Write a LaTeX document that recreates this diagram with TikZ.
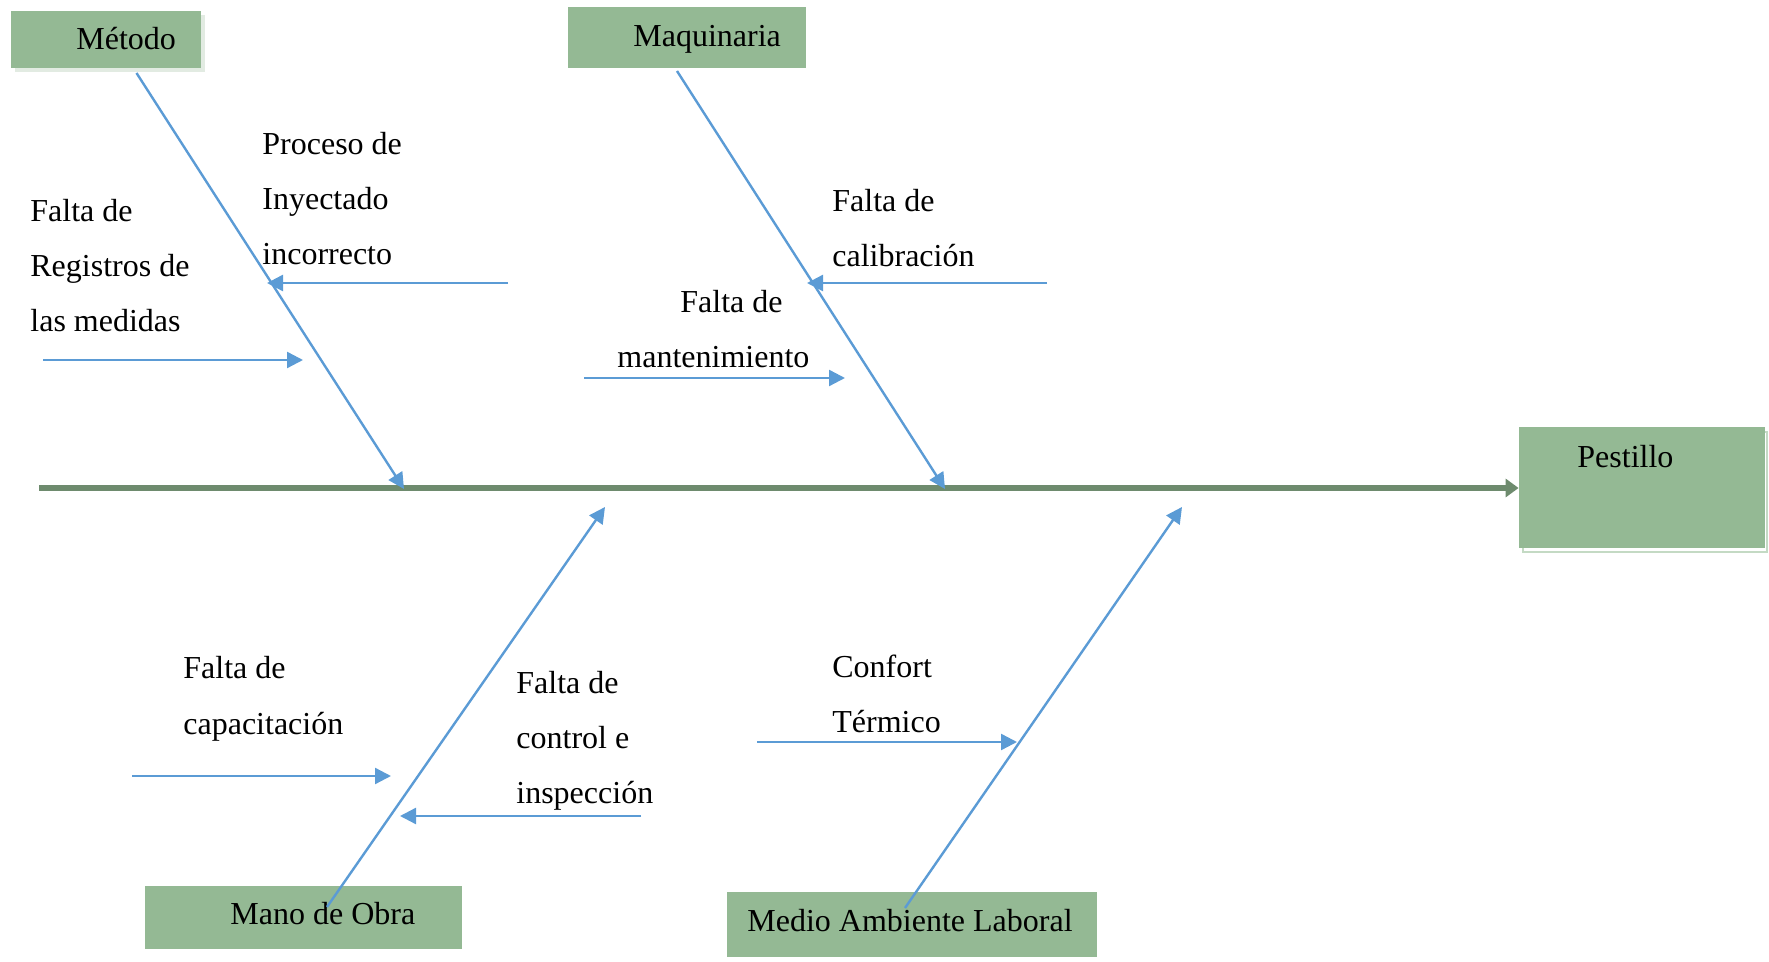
\documentclass[tikz,border=0pt]{standalone}
\usepackage{fontspec}
\setmainfont{Liberation Serif}
\usetikzlibrary{arrows.meta}
\definecolor{boxgreen}{RGB}{148,185,148}
\definecolor{spinegreen}{RGB}{110,139,110}
\definecolor{bonblue}{RGB}{91,155,213}
\definecolor{shadegreen}{RGB}{226,235,226}
\definecolor{rimgreen}{RGB}{196,218,196}
\tikzset{
  catbox/.style={draw=none, fill=boxgreen, inner sep=0pt},
  lbl/.style={anchor=base west, inner sep=0pt, font=\fontsize{16}{19}\selectfont},
  bone/.style={draw=bonblue, line width=1.2pt, -{Triangle[length=8pt,width=8pt]}},
  spine/.style={draw=spinegreen, line width=3pt, -{Triangle[length=6.5pt,width=9pt]}}
}
\begin{document}
\begin{tikzpicture}[x=0.5pt, y=-0.5pt]
\useasboundingbox (0,0) rectangle (1769,962);

% category boxes (with soft offset shadows on two of them)
\fill[shadegreen] (15,15) rectangle (205,72);
\node[catbox, minimum width=95pt, minimum height=28.5pt] (metodo) at (106,39.5) {};
\node[catbox, minimum width=119pt, minimum height=30.5pt] (maquinaria) at (687,37.5) {};
\draw[rimgreen, line width=1pt, fill=white] (1523,432) rectangle (1767,552);
\node[catbox, minimum width=123pt, minimum height=60.5pt] (pestillo) at (1642,488) {};
\node[catbox, minimum width=158.5pt, minimum height=31.5pt] (mano) at (303.5,917.5) {};
\node[catbox, minimum width=185pt, minimum height=32.5pt] (medio) at (912,924.5) {};

% box titles
\node[lbl] (tmetodo) at (76,50) {Método};
\node[lbl] (tmaquinaria) at (633,47) {Maquinaria};
\node[lbl] (tpestillo) at (1577,468) {Pestillo};
\node[lbl] (tmano) at (230,924) {Mano de Obra};
\node[lbl] (tmedio) at (747,931) {Medio Ambiente Laboral};

% spine
\coordinate (tail) at (39,488);
\draw[spine] (tail) -- (tail -| pestillo.west);

% main bones
\coordinate (m0) at (136.5,73);  \coordinate (m1) at (404,489);
\coordinate (q0) at (677,71);    \coordinate (q1) at (945,489);
\coordinate (o0) at (327,907);   \coordinate (o1) at (605,507);
\coordinate (e0) at (905,908);   \coordinate (e1) at (1182,507);
\draw[bone] (m0) -- (m1);
\draw[bone] (q0) -- (q1);
\draw[bone] (o0) -- (o1);
\draw[bone] (e0) -- (e1);

% secondary causes
\coordinate (p0) at (508,283);  \coordinate (p1) at (267,283);
\coordinate (r0) at (43,360);   \coordinate (r1) at (303,360);
\coordinate (c0) at (1047,283); \coordinate (c1) at (807,283);
\coordinate (t0) at (584,378);  \coordinate (t1) at (845,378);
\coordinate (k0) at (132,776);  \coordinate (k1) at (391,776);
\coordinate (i0) at (641,816);  \coordinate (i1) at (400,816);
\coordinate (f0) at (757,742);  \coordinate (f1) at (1017,742);
\draw[bone] (p0) -- (p1);
\draw[bone] (r0) -- (r1);
\draw[bone] (c0) -- (c1);
\draw[bone] (t0) -- (t1);
\draw[bone] (k0) -- (k1);
\draw[bone] (i0) -- (i1);
\draw[bone] (f0) -- (f1);

% cause labels
\node[lbl] (pa) at (262,155) {Proceso de};
\node[lbl] (pb) at (262,210) {Inyectado};
\node[lbl] (pc) at (262,265) {incorrecto};

\node[lbl] (ra) at (30,221.5) {Falta de};
\node[lbl] (rb) at (30,276.5) {Registros de};
\node[lbl] (rc) at (30,331.5) {las medidas};

\node[lbl] (ca) at (832,211.5) {Falta de};
\node[lbl] (cb) at (832,266.5) {calibración};

\node[lbl] (ta) at (680,313) {Falta de};
\node[lbl] (tb) at (617,368) {mantenimiento};

\node[lbl] (ka) at (183,679) {Falta de};
\node[lbl] (kb) at (183,734) {capacitación};

\node[lbl] (ia) at (516,693.5) {Falta de};
\node[lbl] (ib) at (516,748.5) {control e};
\node[lbl] (ic) at (516,803.5) {inspección};

\node[lbl] (fa) at (832,677.5) {Confort};
\node[lbl] (fb) at (832,732.5) {Térmico};
\end{tikzpicture}
\end{document}
